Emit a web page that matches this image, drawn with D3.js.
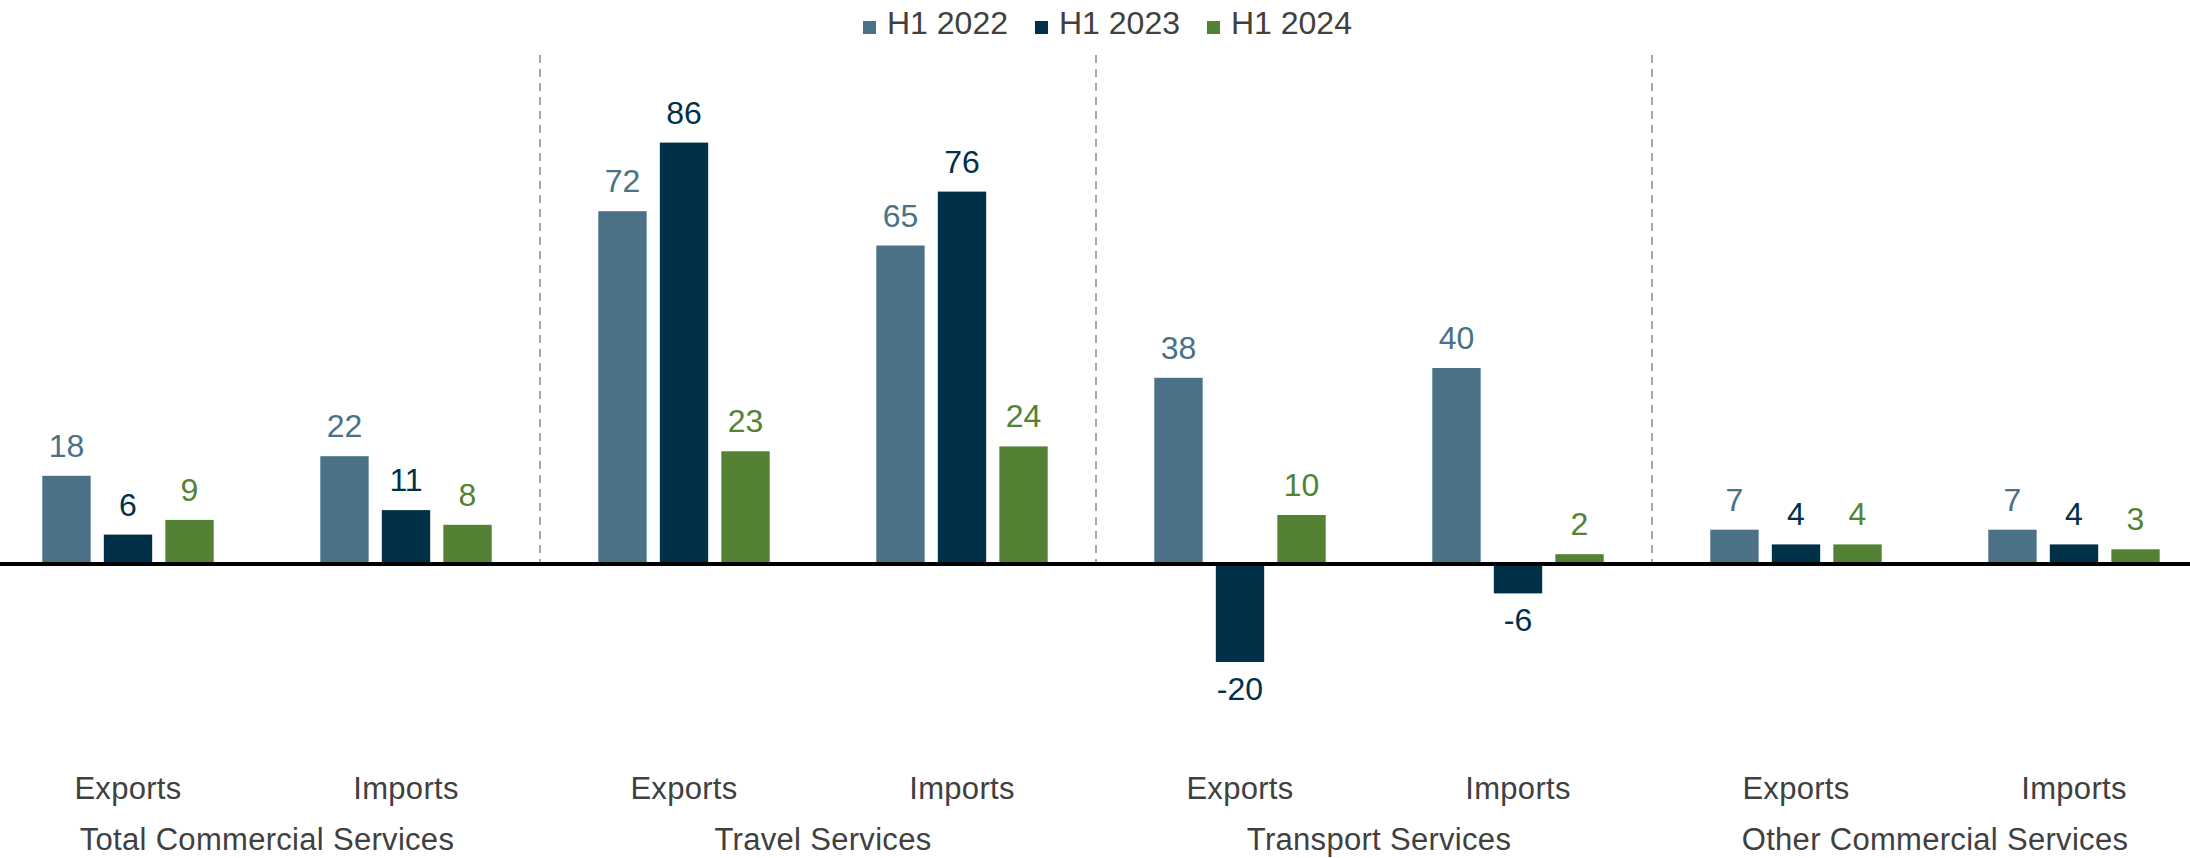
<!DOCTYPE html>
<html>
<head>
<meta charset="utf-8">
<script src="https://cdn.jsdelivr.net/npm/d3@7"></script>
<style>
  html, body { margin: 0; padding: 0; background: #fff; }
  svg { display: block; font-family: "Liberation Sans", Arial, Helvetica, sans-serif; }
</style>
</head>
<body>
<svg id="chart" width="2190" height="858"></svg>
<script>
// Year-on-year growth of services trade (%), first half of each year
const categories = ["Total Commercial Services", "Travel Services", "Transport Services", "Other Commercial Services"];
const flows = ["Exports", "Imports"];
const seriesNames = ["H1 2022", "H1 2023", "H1 2024"];

// values in order: Total Exp, Total Imp, Travel Exp, Travel Imp, Transport Exp, Transport Imp, Other Exp, Other Imp
const h1_2022 = [18, 22, 72, 65, 38, 40, 7, 7];
const h1_2023 = [6, 11, 86, 76, -20, -6, 4, 4];
const h1_2024 = [9, 8, 23, 24, 10, 2, 4, 3];

const seriesValues = [h1_2022, h1_2023, h1_2024];
const colors = ["#4a7186", "#013049", "#548235"];
const textColor = "#404040";

const width = 2190, height = 858;
const svg = d3.select("#chart");

// one slot per category/flow pair
const groupKeys = categories.flatMap(c => flows.map(f => c + "|" + f));

const x0 = d3.scaleBand()
  .domain(groupKeys)
  .range([-11, 2213])
  .paddingInner(0.3835)
  .paddingOuter(0.3835 / 2);

const x1 = d3.scaleBand()
  .domain(seriesNames)
  .range([0, x0.bandwidth()])
  .paddingInner(0.214);

const y = d3.scaleLinear()
  .domain([-30, 100])
  .range([564 + 30 * 4.9, 564 - 100 * 4.9]);

const color = d3.scaleOrdinal().domain(seriesNames).range(colors);

// dashed separators between categories
const sepTop = 55;
const seps = d3.range(1, categories.length).map(i => {
  const prevKey = groupKeys[i * flows.length - 1];
  const nextKey = groupKeys[i * flows.length];
  return (x0(prevKey) + x0.bandwidth() + x0(nextKey)) / 2 - 5;
});
svg.append("g").selectAll("line")
  .data(seps)
  .join("line")
  .attr("x1", d => d).attr("x2", d => d)
  .attr("y1", sepTop).attr("y2", y(0))
  .attr("stroke", "#a8a8a8")
  .attr("stroke-width", 2)
  .attr("stroke-dasharray", "8,6");

// bars
const rows = groupKeys.map((key, gi) => ({
  key,
  bars: seriesNames.map((s, si) => ({ series: s, value: seriesValues[si][gi] }))
}));

const groups = svg.append("g").selectAll("g")
  .data(rows)
  .join("g")
  .attr("transform", d => `translate(${x0(d.key)},0)`);

groups.selectAll("rect")
  .data(d => d.bars)
  .join("rect")
  .attr("x", d => x1(d.series))
  .attr("width", x1.bandwidth())
  .attr("y", d => y(Math.max(0, d.value)))
  .attr("height", d => Math.abs(y(d.value) - y(0)))
  .attr("fill", d => color(d.series));

// value labels (plain hyphen for negatives)
groups.selectAll("text")
  .data(d => d.bars)
  .join("text")
  .attr("x", d => x1(d.series) + x1.bandwidth() / 2)
  .attr("y", d => d.value >= 0 ? y(d.value) - 19 : y(d.value) + 38)
  .attr("text-anchor", "middle")
  .attr("font-size", 32)
  .attr("fill", d => color(d.series))
  .text(d => String(d.value));

// zero line
svg.append("line")
  .attr("x1", 0).attr("x2", width)
  .attr("y1", y(0)).attr("y2", y(0))
  .attr("stroke", "#000")
  .attr("stroke-width", 4);

// flow labels
svg.append("g").selectAll("text")
  .data(groupKeys)
  .join("text")
  .attr("x", d => x0(d) + x0.bandwidth() / 2)
  .attr("y", 799)
  .attr("text-anchor", "middle")
  .attr("font-size", 31)
  .attr("letter-spacing", 0.3)
  .attr("fill", textColor)
  .text(d => d.split("|")[1]);

// category labels
svg.append("g").selectAll("text")
  .data(categories)
  .join("text")
  .attr("x", (c, i) => {
    const a = x0(groupKeys[i * flows.length]);
    const b = x0(groupKeys[i * flows.length + flows.length - 1]) + x0.bandwidth();
    return (a + b) / 2;
  })
  .attr("y", 850)
  .attr("text-anchor", "middle")
  .attr("font-size", 31)
  .attr("letter-spacing", 0.3)
  .attr("fill", textColor)
  .text(d => d);

// legend
const legend = svg.append("g");
let lx = 863;
seriesNames.forEach((s, i) => {
  legend.append("rect")
    .attr("x", lx).attr("y", 21)
    .attr("width", 13).attr("height", 13)
    .attr("fill", colors[i]);
  const t = legend.append("text")
    .attr("x", lx + 24).attr("y", 34)
    .attr("font-size", 32)
    .attr("fill", textColor)
    .text(s);
  lx += 24 + t.node().getComputedTextLength() + 27;
});
</script>
</body>
</html>
